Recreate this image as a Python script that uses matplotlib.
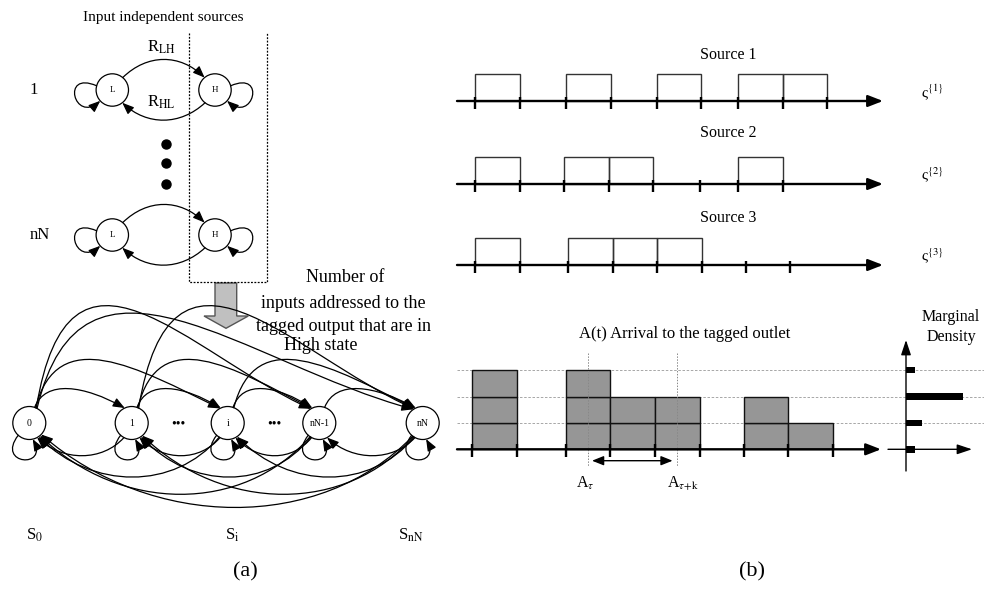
import numpy as np
import matplotlib
matplotlib.use('Agg')
import matplotlib.pyplot as plt
from matplotlib.patches import Circle, FancyArrowPatch, Polygon, Rectangle
from matplotlib.path import Path

plt.rcParams['font.family'] = ['Liberation Serif', 'DejaVu Serif']
plt.rcParams['mathtext.fontset'] = 'stix'

# ---------------- data (b): sources and arrivals ----------------
src_names = ['Source 1', 'Source 2', 'Source 3']
src_tags = ['ς$^{\\{1\\}}$', 'ς$^{\\{2\\}}$', 'ς$^{\\{3\\}}$']
src_ticks = [
    [474.7, 519.8, 565.6, 610.7, 656.5, 700.9, 738.3, 782.7, 827.1],
    [474.7, 519.8, 564.2, 608.6, 653.0, 700.2, 738.3, 782.7],
    [474.7, 519.8, 568.4, 612.8, 657.2, 701.6, 746.0, 790.4],
]
src_on = [
    [1, 0, 1, 0, 1, 0, 1, 1],
    [1, 0, 1, 1, 0, 0, 1],
    [1, 0, 1, 1, 1, 0, 0],
]
arr_ticks = [472.3, 517.0, 565.6, 610.0, 655.1, 699.5, 743.9, 788.3, 832.7]
arr_counts = [3, 0, 3, 2, 2, 0, 2, 1]
marg_len = [9, 16, 57, 9]          # marginal density bar lengths, levels 0..3
a_tau = [588.0, 676.6]             # A_tau and A_tau+k instants

# ---------------- data (a): Markov chain ----------------
state_labels = ['0', '1', 'i', 'nN-1', 'nN']
state_x = [29.3, 131.7, 227.7, 319.3, 422.7]
# rise of the two control points of forward arcs, by span
fwd_h1 = [0, 28, 85, 200, 190]
fwd_h2 = [0, 22, 40, 55, 45]
bwd_depth = [0, 18, 40, 58, 72]
src_rows = ['1', 'nN']

# ---------------- layout ----------------
row_y = [101, 184, 265]
row_label_y = [55, 133, 218]
pulse_h = 27
arr_y = 449.3
unit = 26.4
marg_x = 906
node_y = 423
node_r = 16.5
pair_y = [90, 235]
L_x, H_x, lh_r = 112.3, 215.0, 16.2

fig = plt.figure(figsize=(9.84, 6.01), dpi=100)
ax = fig.add_axes([0, 0, 1, 1])
ax.set_xlim(0, 984)
ax.set_ylim(601, 0)
ax.axis('off')


def on_circle(cx, cy, r, deg):
    a = np.radians(deg)
    return (cx + r * np.cos(a), cy - r * np.sin(a))


def bez(p0, c1, c2, p1, lw=0.9, head=True):
    path = Path([p0, c1, c2, p1], [Path.MOVETO, Path.CURVE4, Path.CURVE4, Path.CURVE4])
    style = '-|>,head_length=0.7,head_width=0.28' if head else '-'
    ax.add_patch(FancyArrowPatch(path=path, arrowstyle=style, mutation_scale=10,
                                 lw=lw, color='k', zorder=3))


def axis_arrow(x0, x1, y, lw=1.7):
    ax.add_patch(FancyArrowPatch((x0, y), (x1, y), arrowstyle='-|>,head_length=0.9,head_width=0.35',
                                 mutation_scale=10, lw=lw, color='k', shrinkA=0, shrinkB=0, zorder=4))


# ---------------- panel (b): sources ----------------
for k in range(3):
    t = src_ticks[k]
    y = row_y[k]
    for j, on in enumerate(src_on[k]):
        if on:
            ax.add_patch(Rectangle((t[j], y - pulse_h), t[j + 1] - t[j], pulse_h,
                                   fill=False, ec='#333333', lw=1.0, zorder=2))
    axis_arrow(457, 883, y)
    ax.vlines(t, y - 4, y + 8, color='k', lw=1.7, zorder=4)
    ax.text(728, row_label_y[k], src_names[k], ha='center', va='center', fontsize=11.5)
    ax.text(921, y - 9, src_tags[k], ha='left', va='center', fontsize=11)

# ---------------- panel (b): arrivals ----------------
ax.text(685, 334, 'A(t) Arrival to the tagged outlet', ha='center', va='center', fontsize=12)
for lev in range(1, 4):
    ax.hlines(arr_y - lev * unit, 457, 984, color='#999999', lw=0.6, linestyles=(0, (3, 2)), zorder=1)
lefts = np.array(arr_ticks[:-1])
widths = np.diff(arr_ticks)
counts = np.array(arr_counts)
for lev in range(max(arr_counts)):
    m = counts > lev
    ax.bar(lefts[m], unit, width=widths[m], bottom=arr_y - (lev + 1) * unit, align='edge',
           color='#969696', edgecolor='#111111', lw=1.0, zorder=2)
axis_arrow(457, 881, arr_y)
ax.vlines(arr_ticks, arr_y - 5, arr_y + 8, color='k', lw=1.7, zorder=4)
ax.vlines(a_tau, 353, 466, color='#888888', lw=0.7, linestyles=(0, (1.5, 1.5)), zorder=3)
ax.add_patch(FancyArrowPatch((a_tau[0] + 4, 460.7), (a_tau[1] - 4, 460.7),
                             arrowstyle='<|-|>,head_length=0.7,head_width=0.28', mutation_scale=10,
                             lw=1.0, color='k', shrinkA=0, shrinkB=0, zorder=4))
ax.text(a_tau[0] - 3, 483, r'A$_\tau$', ha='center', va='center', fontsize=11.5)
ax.text(a_tau[1] + 6, 483, r'A$_{\tau\mathrm{+k}}$', ha='center', va='center', fontsize=11.5)

# marginal density
ax.add_patch(FancyArrowPatch((marg_x, 471), (marg_x, 340), arrowstyle='-|>,head_length=0.9,head_width=0.3',
                             mutation_scale=10, lw=1.0, color='k', shrinkA=0, shrinkB=0, zorder=4))
ax.add_patch(FancyArrowPatch((888, arr_y), (972, arr_y), arrowstyle='-|>,head_length=0.9,head_width=0.3',
                             mutation_scale=10, lw=1.0, color='k', shrinkA=0, shrinkB=0, zorder=4))
levels_y = [arr_y - lev * unit for lev in range(4)]
ax.barh(levels_y, marg_len, height=6.7, left=marg_x, color='k', zorder=5)
ax.text(951, 317, 'Marginal', ha='center', va='center', fontsize=11.5)
ax.text(951, 337, 'Density', ha='center', va='center', fontsize=11.5)

# ---------------- panel (a): input sources ----------------
ax.text(163, 17, 'Input independent sources', ha='center', va='center', fontsize=11)
ax.plot([189, 189, 266.7, 266.7], [33, 282, 282, 33], color='k', lw=0.9, ls=(0, (1.5, 1.2)))
for k, y in enumerate(pair_y):
    for x, s in [(L_x, 'L'), (H_x, 'H')]:
        ax.add_patch(Circle((x, y), lh_r, fill=False, ec='k', lw=0.9, zorder=3))
        ax.text(x, y, s, ha='center', va='center', fontsize=6.5)
    ax.text(34 + 6 * k, y, src_rows[k], ha='center', va='center', fontsize=12)
    # L -> H
    p0 = on_circle(L_x, y, lh_r, 50)
    p1 = on_circle(H_x, y, lh_r, 130)
    dx = p1[0] - p0[0]
    bez(p0, (p0[0] + 0.3 * dx, p0[1] - 24), (p1[0] - 0.3 * dx, p1[1] - 24), p1)
    # H -> L
    p0 = on_circle(H_x, y, lh_r, 232)
    p1 = on_circle(L_x, y, lh_r, 308)
    dx = p1[0] - p0[0]
    bez(p0, (p0[0] + 0.3 * dx, p0[1] + 23), (p1[0] - 0.3 * dx, p1[1] + 23), p1)
    # self loops
    bez(on_circle(L_x, y, lh_r, 165), (L_x - 52, y - 20), (L_x - 38, y + 34), on_circle(L_x, y, lh_r, 222))
    bez(on_circle(H_x, y, lh_r, 15), (H_x + 52, y - 20), (H_x + 38, y + 34), on_circle(H_x, y, lh_r, -42))
ax.text(161, 47, r'R$_{\mathrm{LH}}$', ha='center', va='center', fontsize=12)
ax.text(161, 102, r'R$_{\mathrm{HL}}$', ha='center', va='center', fontsize=12)
ax.plot([166, 166, 166], [144, 163.3, 184.3], 'o', color='k', ms=6.5)

# big gray arrow
ax.add_patch(Polygon([(215, 283), (236.7, 283), (236.7, 316), (248.3, 316), (226, 328.3),
                      (204, 316), (215, 316)], closed=True, fc='#c0c0c0', ec='#555555', lw=1.0))
for txt, x, y in [('Number of', 345, 277), ('inputs addressed to the', 343, 303),
                  ('tagged output that are in', 343, 326.5), ('High state', 321, 346)]:
    ax.text(x, y, txt, ha='center', va='center', fontsize=13)

# ---------------- panel (a): aggregated chain ----------------
for x, s in zip(state_x, state_labels):
    ax.add_patch(Circle((x, node_y), node_r, fill=False, ec='k', lw=0.9, zorder=3))
    ax.text(x, node_y, s, ha='center', va='center', fontsize=7)
    # self loop underneath
    bez(on_circle(x, node_y, node_r, 228), (x - 34, node_y + 42), (x + 20, node_y + 46),
        on_circle(x, node_y, node_r, 282))
for x in [178, 274]:
    ax.text(x, node_y + 1, '•••', ha='center', va='center', fontsize=10)

n = len(state_x)
for a in range(n):
    for b in range(a + 1, n):
        span = b - a
        # forward transition (above), steep rise then long descent
        p0 = on_circle(state_x[a], node_y, node_r, 74 - 3 * span)
        p1 = on_circle(state_x[b], node_y, node_r, 112 + 3 * span)
        dx = p1[0] - p0[0]
        bez(p0, (p0[0] + 0.12 * dx, p0[1] - fwd_h1[span]),
            (p0[0] + 0.55 * dx, p0[1] - fwd_h2[span]), p1)
        # backward transition (below)
        q0 = on_circle(state_x[b], node_y, node_r, 245 - 3 * span)
        q1 = on_circle(state_x[a], node_y, node_r, 292 + 6 * span)
        dx = q1[0] - q0[0]
        dd = bwd_depth[span] / 0.75
        bez(q0, (q0[0] + 0.25 * dx, q0[1] + dd), (q1[0] - 0.3 * dx, q1[1] + dd), q1)

ax.text(35, 535, r'S$_0$', ha='center', va='center', fontsize=12)
ax.text(232, 535, r'S$_\mathrm{i}$', ha='center', va='center', fontsize=12)
ax.text(411, 535, r'S$_\mathrm{nN}$', ha='center', va='center', fontsize=12)

ax.text(245, 572, '(a)', ha='center', va='center', fontsize=16)
ax.text(752, 572, '(b)', ha='center', va='center', fontsize=16)

fig.savefig('out.png', dpi=100)
